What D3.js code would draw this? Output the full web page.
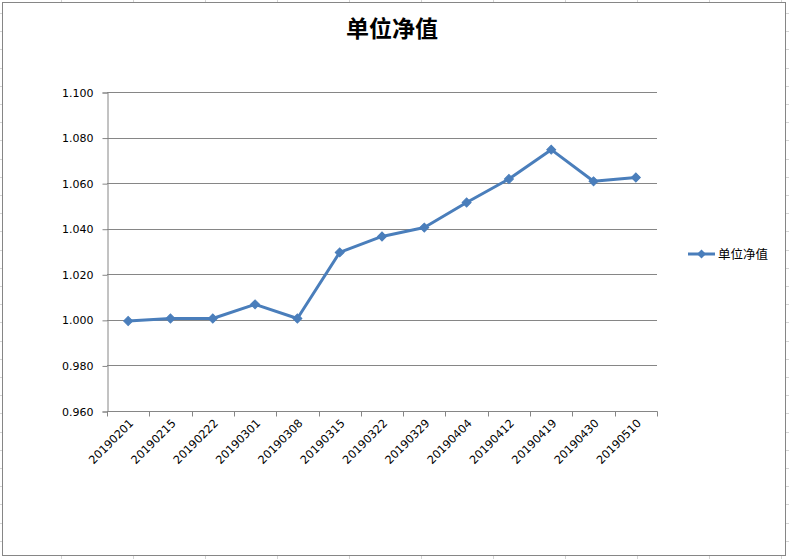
<!DOCTYPE html>
<html>
<head>
<meta charset="utf-8">
<script src="https://cdn.jsdelivr.net/npm/d3@7"></script>
<style>
html,body{margin:0;padding:0;background:#fff;}
svg{display:block;}
</style>
</head>
<body>
<svg id="chart" width="789" height="559"></svg>
<script>
const title = "单位净值";
const seriesName = "单位净值";
const categories = ["20190201","20190215","20190222","20190301","20190308","20190315","20190322","20190329","20190404","20190412","20190419","20190430","20190510"];
const values = [0.9995,1.0006,1.0006,1.0068,1.0006,1.0296,1.0366,1.0405,1.0515,1.0618,1.0747,1.0608,1.0625];
const yTicks = [0.960,0.980,1.000,1.020,1.040,1.060,1.080,1.100];

const W = 789, H = 559;
const svg = d3.select("#chart");
const margin = {left:107, right:W-657, top:92, bottom:H-411};

// faint sheet cell marks outside the chart frame
const sheetCols = d3.range(61, W, 72);
const sheetRows = d3.range(13, H, 18.2);
const sheet = svg.append("g").attr("stroke","#d4d4d4").attr("stroke-width",1);
sheetCols.forEach(x=>{
  sheet.append("line").attr("x1",x+0.5).attr("x2",x+0.5).attr("y1",0).attr("y2",2);
  sheet.append("line").attr("x1",x+0.5).attr("x2",x+0.5).attr("y1",H-3).attr("y2",H);
});
sheetRows.forEach(y=>{
  const yy=Math.round(y)+0.5;
  sheet.append("line").attr("x1",0).attr("x2",2).attr("y1",yy).attr("y2",yy);
  sheet.append("line").attr("x1",W-3).attr("x2",W).attr("y1",yy).attr("y2",yy);
});

// chart frame
svg.append("rect").attr("x",2.5).attr("y",2.5).attr("width",W-6).attr("height",H-6)
  .attr("fill","#fff").attr("stroke","#868686").attr("stroke-width",1);

const x = d3.scaleBand().domain(categories).range([margin.left, W-margin.right]).padding(0);
const y = d3.scaleLinear().domain([0.960,1.100]).range([H-margin.bottom, margin.top]);

// gridlines
svg.append("g").selectAll("line").data(yTicks).join("line")
  .attr("x1",margin.left).attr("x2",W-margin.right)
  .attr("y1",d=>Math.round(y(d))+0.5).attr("y2",d=>Math.round(y(d))+0.5)
  .attr("stroke","#868686").attr("stroke-width",1);

// y axis
const yAxis = d3.axisLeft(y).tickValues(yTicks).tickFormat(d3.format(".3f")).tickSize(5).tickPadding(9);
const gy = svg.append("g").attr("transform",`translate(${margin.left+0.5},0.5)`).call(yAxis);
gy.selectAll("path,line").attr("stroke","#868686");
gy.selectAll("text").attr("font-family","DejaVu Sans, Verdana, sans-serif").attr("font-size","11px").attr("fill","#000");

// x axis
const xAxis = d3.axisBottom(x).tickSize(0).tickFormat("");
const gx = svg.append("g").attr("transform",`translate(0.5,${Math.round(H-margin.bottom)+0.5})`).call(xAxis);
gx.selectAll("path").attr("stroke","#868686").attr("d",`M${margin.left},0H${W-margin.right}`);
const bounds = categories.map(c=>x(c)).concat([x(categories[categories.length-1])+x.bandwidth()]);
gx.selectAll(".tickmark").data(bounds).join("line").attr("class","tickmark")
  .attr("x1",d=>Math.round(d)).attr("x2",d=>Math.round(d)).attr("y1",0).attr("y2",5)
  .attr("stroke","#868686");
svg.append("g").selectAll("text").data(categories).join("text")
  .attr("transform",d=>`translate(${x(d)+x.bandwidth()/2+6},${Math.round(H-margin.bottom)+13}) rotate(-45)`)
  .attr("text-anchor","end")
  .attr("font-family","DejaVu Sans, Verdana, sans-serif").attr("font-size","11.3px").attr("fill","#000")
  .text(d=>d);

// line
const color = "#4a7ebb";
const line = d3.line().x((d,i)=>x(categories[i])+x.bandwidth()/2).y(d=>y(d));
svg.append("path").datum(values).attr("d",line).attr("fill","none")
  .attr("stroke",color).attr("stroke-width",3).attr("stroke-linejoin","round");
const diamond = d3.symbol().type(d3.symbolSquare).size(40);
svg.append("g").selectAll("path").data(values).join("path")
  .attr("transform",(d,i)=>`translate(${x(categories[i])+x.bandwidth()/2},${y(d)}) rotate(45)`)
  .attr("d",diamond).attr("fill",color).attr("stroke",color).attr("stroke-width",1);

// title
svg.append("text").attr("x",392).attr("y",37).attr("text-anchor","middle")
  .attr("font-family","'Noto Sans CJK SC', sans-serif").attr("font-weight","bold").attr("font-size","23px")
  .attr("fill","#000").text(title);

// legend
const lg = svg.append("g").attr("transform","translate(688,254)");
lg.append("line").attr("x1",0).attr("x2",27).attr("y1",0).attr("y2",0).attr("stroke",color).attr("stroke-width",3);
lg.append("path").attr("transform","translate(13.5,0) rotate(45)").attr("d",diamond).attr("fill",color);
lg.append("text").attr("x",30).attr("y",4.5)
  .attr("font-family","'Noto Sans CJK SC', sans-serif").attr("font-size","12.5px").attr("fill","#000").text(seriesName);
</script>
</body>
</html>
